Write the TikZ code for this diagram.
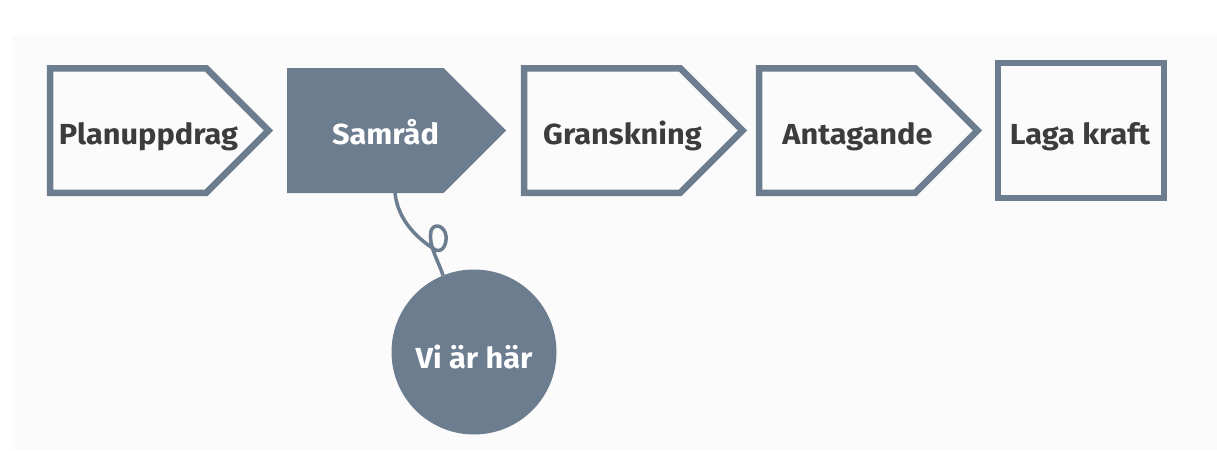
\documentclass[tikz,border=0pt]{standalone}
\usepackage{fontspec}
\setmainfont{Fira Sans}[FakeStretch=1.06]
\usepackage{tikz}
\usetikzlibrary{positioning, shapes.symbols, calc}

\definecolor{slate}{HTML}{6C7D8F}
\definecolor{ink}{HTML}{3E3B3B}
\definecolor{paper}{HTML}{FBFBFB}
\newcommand{\stagefont}{\fontsize{29}{33}\selectfont\bfseries}

\begin{document}
\begin{tikzpicture}[
            x=1pt, y=-1pt,
            steptext/.style={anchor=base, xshift=98.5pt, yshift=-13.5pt, font=\stagefont, text=ink},
            stage/.style={signal, signal to=east, draw=slate, line width=6.5pt, minimum width=218.5pt, minimum height=124.5pt, outer sep=0pt, label={[steptext]west:#1}},
            current/.style={signal, signal to=east, fill=slate, minimum width=219pt, minimum height=125pt, outer sep=0pt, label={[steptext, text=white]west:#1}},
            final/.style={rectangle, draw=slate, line width=6.5pt, minimum width=166pt, minimum height=135pt, outer sep=0pt, label={[steptext, xshift=-16.5pt]west:#1}},
            marker/.style={circle, fill=slate, minimum size=165pt, text height=32pt, text depth=0pt, font=\stagefont, text=white},
            tether/.style={draw=slate, line width=3.5pt}
        ]

        % Hintergrund
        \useasboundingbox (0,0) rectangle (1217,450);
        \fill[paper] (12,35) rectangle (1217,450);

        % Schritte
        \node[stage=Planuppdrag, anchor=west] (plan) at (50,130.5) {};
        \node[current=Samråd, right=18.5pt of plan] (samrad) {};
        \node[stage=Granskning, right=18pt of samrad] (gransk) {};
        \node[stage=Antagande, right=16.5pt of gransk] (anta) {};
        \node[final=Laga kraft, right=20.5pt of anta] (laga) {};

        % Markering
        \node[marker] (here) at (474,352) {Vi är här};

        % Schnur
        \draw[tether] ($(samrad.west |- samrad.south)+(108,0)$) .. controls (398,222) and (420,240) .. (434,249)
            .. controls (441,254) and (447,246) .. (446,236)
            .. controls (445,226) and (434,222) .. (431,231)
            .. controls (428,245) and (438,260) .. (here.112);

    \end{tikzpicture}
\end{document}
